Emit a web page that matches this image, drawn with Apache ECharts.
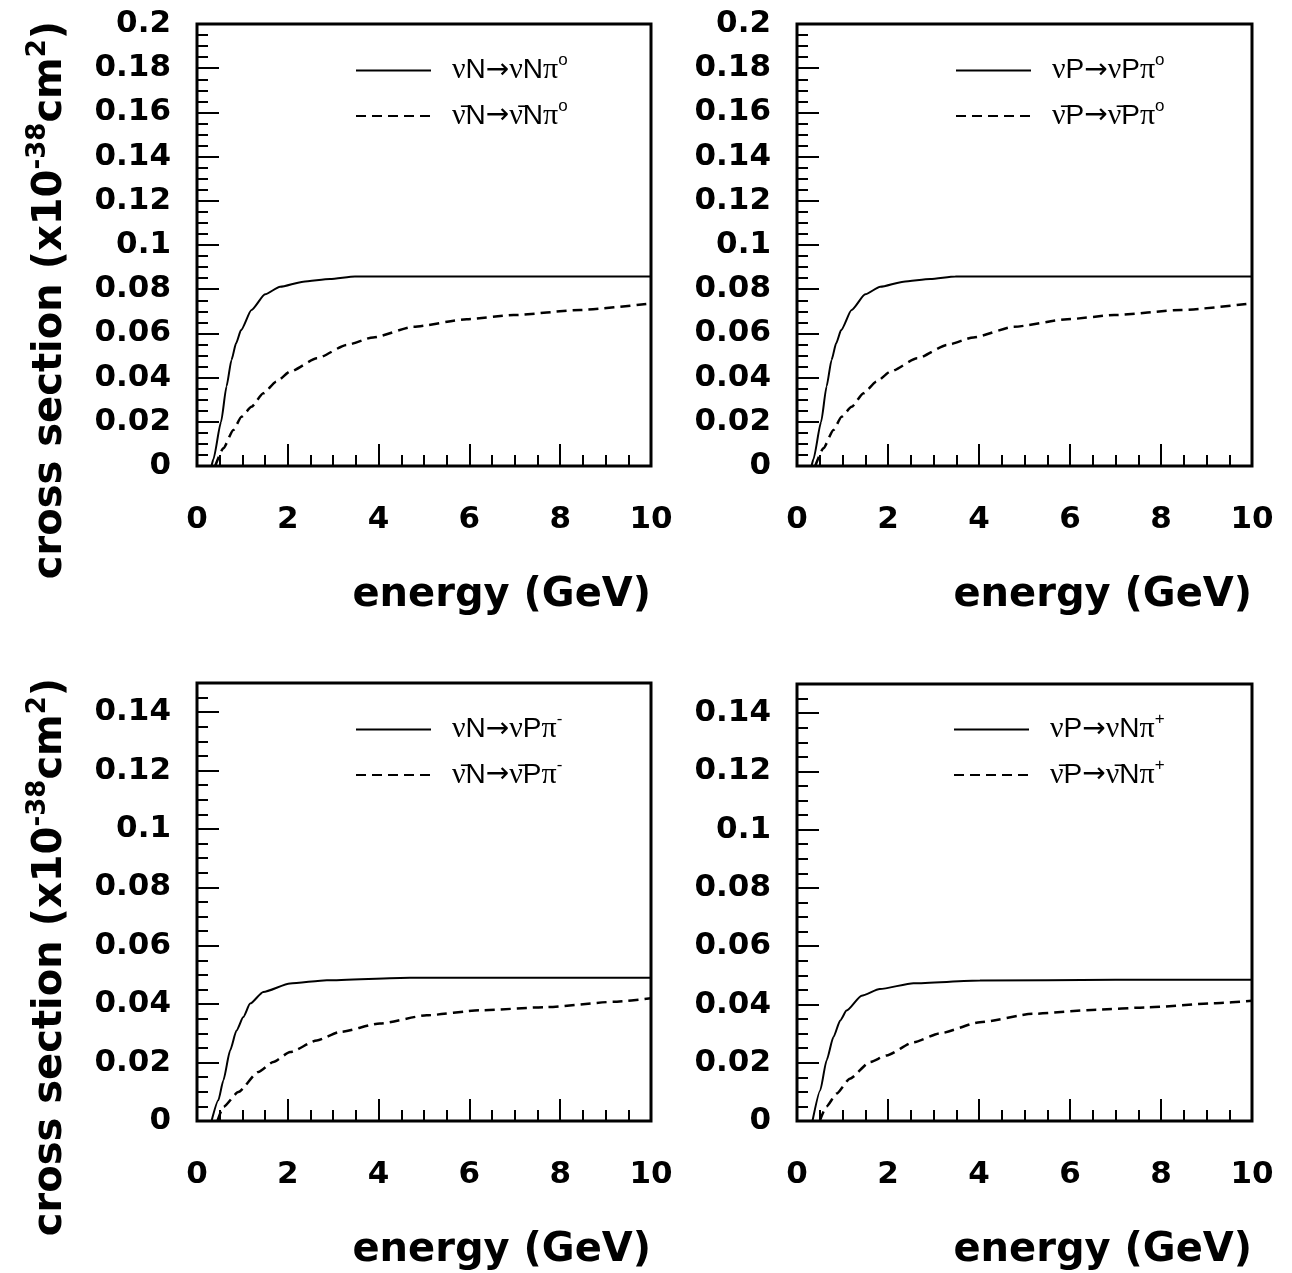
<!DOCTYPE html>
<html><head><meta charset="utf-8">
<script src="https://cdn.jsdelivr.net/npm/echarts@6/dist/echarts.min.js"></script>
<style>html,body{margin:0;padding:0;background:#fff}#c{width:1292px;height:1273px}</style>
</head><body><div id="c"></div><script>
// ---------- data ----------
const xTickLabels = ['0','2','4','6','8','10'];
const yMaxTop = 0.2, yMaxBottom = 0.15;

const namesTL = ['νN→νNπ⁰', 'ν̄N→ν̄Nπ⁰'];
const namesTR = ['νP→νPπ⁰', 'ν̄P→ν̄Pπ⁰'];
const namesBL = ['νN→νPπ⁻', 'ν̄N→ν̄Pπ⁻'];
const namesBR = ['νP→νNπ⁺', 'ν̄P→ν̄Nπ⁺'];

// top-left
const tlSolidE = [0.32,0.36,0.53,0.65,0.76,0.86,0.97,1.2,1.5,1.83,2.34,2.93,3.48,5,7,10];
const tlSolidV = [0,0.003,0.020,0.036,0.048,0.0555,0.0615,0.0706,0.0777,0.0811,0.0834,0.0846,0.0857,0.0858,0.0858,0.0858];
const tlDashE  = [0.4,0.58,0.80,0.98,1.2,1.46,1.75,2.05,2.64,3.3,3.88,4.77,5.94,6.97,8.44,10];
const tlDashV  = [0,0.008,0.0163,0.0223,0.0268,0.0329,0.0382,0.0427,0.0487,0.0548,0.0582,0.063,0.0664,0.0683,0.0706,0.0736];
// top-right
const trSolidE = [0.32,0.36,0.53,0.65,0.76,0.86,0.97,1.2,1.5,1.83,2.34,2.93,3.48,5,7,10];
const trSolidV = [0,0.003,0.020,0.036,0.048,0.0555,0.0615,0.0706,0.0777,0.0811,0.0834,0.0846,0.0857,0.0858,0.0858,0.0858];
const trDashE  = [0.4,0.58,0.80,0.98,1.2,1.46,1.75,2.05,2.64,3.3,3.88,4.77,5.94,6.97,8.44,10];
const trDashV  = [0,0.008,0.0163,0.0223,0.0268,0.0329,0.0382,0.0427,0.0487,0.0548,0.0582,0.063,0.0664,0.0683,0.0706,0.0736];
// bottom-left
const blSolidE = [0.32,0.47,0.58,0.73,0.87,1.02,1.17,1.46,2.05,2.86,4.69,7,10];
const blSolidV = [0,0.0071,0.0139,0.0242,0.031,0.0356,0.0402,0.0442,0.0471,0.0482,0.0491,0.0491,0.0491];
const blDashE  = [0.45,0.58,0.91,1.35,1.68,2.05,2.64,3.15,4.03,5.06,6.23,7.7,9.17,10];
const blDashV  = [0,0.0048,0.0099,0.0168,0.0202,0.0236,0.0276,0.0305,0.0334,0.0362,0.0379,0.039,0.0408,0.042];
// bottom-right
const brSolidE = [0.34,0.51,0.65,0.80,0.95,1.09,1.42,1.82,2.56,4.02,7,10];
const brSolidV = [0,0.0105,0.0208,0.0288,0.0345,0.0379,0.043,0.0453,0.0473,0.0482,0.0485,0.0485];
const brDashE  = [0.5,0.65,0.87,1.16,1.60,1.97,2.56,3.14,4.02,5.19,6.59,7.69,9.15,10];
const brDashV  = [0,0.005,0.0094,0.0145,0.0202,0.0225,0.027,0.0301,0.0339,0.0368,0.0382,0.039,0.0404,0.0413];

const yTitle = 'cross section (x10{sup|-38}cm{sup|2})';
const xTitle = 'energy (GeV)';

// ---------- layout ----------
const panels = [
  {left:197, top:24,  width:454, height:442, ymax:yMaxTop,    names:namesTL, s:[tlSolidE,tlSolidV], d:[tlDashE,tlDashV], ytitle:true,  lx:350, ly:47},
  {left:797, top:24,  width:455, height:442, ymax:yMaxTop,    names:namesTR, s:[trSolidE,trSolidV], d:[trDashE,trDashV], ytitle:false, lx:950, ly:47},
  {left:197, top:683, width:454, height:438, ymax:yMaxBottom, names:namesBL, s:[blSolidE,blSolidV], d:[blDashE,blDashV], ytitle:true,  lx:350, ly:706},
  {left:797, top:684, width:455, height:437, ymax:yMaxBottom, names:namesBR, s:[brSolidE,brSolidV], d:[brDashE,brDashV], ytitle:false, lx:948, ly:706}
];

const zip = (a,b) => a.map((v,i)=>[v,b[i]]);
const FONT = 'DejaVu Sans';
const tickLabel = {fontSize:31, fontWeight:'bold', fontFamily:FONT, color:'#000'};

function richName(s){
  let out='';
  for (let i=0;i<s.length;i++){
    const ch=s[i];
    if (ch==='ν'){ if (s[i+1]==='\u0304'){ out+='{g|ν\u0304}'; i++; } else out+='{g|ν}'; }
    else if (ch==='π') out+='{g|π}';
    else if (ch==='⁰') out+='{s|o}';
    else if (ch==='⁻') out+='{s|-}';
    else if (ch==='⁺') out+='{s|+}';
    else if (ch==='→') out+='{a|→}';
    else out+='{n|'+ch+'}';
  }
  return out;
}

const option = {
  animation:false,
  backgroundColor:'#fff',
  grid:[], xAxis:[], yAxis:[], series:[], legend:[]
};

panels.forEach((p,i)=>{
  option.grid.push({left:p.left, top:p.top, width:p.width, height:p.height, show:true,
    borderColor:'#000', borderWidth:3, backgroundColor:'transparent', containLabel:false, outerBoundsMode:'none'});
  option.xAxis.push({type:'value', gridIndex:i, min:0, max:10, interval:2,
    axisLine:{show:false}, splitLine:{show:false},
    axisTick:{inside:true, length:22, lineStyle:{color:'#000', width:2}},
    axisLabel:Object.assign({margin:38, formatter:(v)=>xTickLabels[Math.round(v/2)] ?? ''}, tickLabel),
    name:xTitle, nameLocation:'end', nameGap:0, nameMoveOverlap:false,
    nameTextStyle:{align:'right', verticalAlign:'top', padding:[110,0,0,0], fontSize:40, fontFamily:FONT, fontWeight:'bold', color:'#000'}
  });
  option.xAxis.push({type:'value', gridIndex:i, min:0, max:10, interval:0.5, position:'bottom',
    axisLine:{show:false}, splitLine:{show:false}, axisLabel:{show:false},
    axisTick:{inside:true, length:11, lineStyle:{color:'#000', width:2}}});
  const ya = {type:'value', gridIndex:i, min:0, max:p.ymax, interval:0.02, position:'left',
    axisLine:{show:false}, splitLine:{show:false},
    axisTick:{inside:true, length:22, lineStyle:{color:'#000', width:2}},
    axisLabel:Object.assign({margin:26, padding:[8,0,0,0], showMaxLabel: p.ymax===yMaxTop}, tickLabel)};
  if (p.ytitle){
    Object.assign(ya, {name:yTitle, nameLocation:'middle', nameGap:120, nameRotate:90, nameMoveOverlap:false,
      nameTextStyle:{fontSize:40, fontFamily:FONT, fontWeight:'bold', color:'#000', padding:[0,110,0,0],
        rich:{sup:{fontSize:26, fontFamily:FONT, fontWeight:'bold', color:'#000', padding:[0,0,26,0]}}}});
  }
  option.yAxis.push(ya);
  option.yAxis.push({type:'value', gridIndex:i, min:0, max:p.ymax, interval:0.005, position:'left',
    axisLine:{show:false}, splitLine:{show:false}, axisLabel:{show:false},
    axisTick:{inside:true, length:11, lineStyle:{color:'#000', width:2}}});

  option.series.push({name:p.names[0], type:'line', xAxisIndex:2*i, yAxisIndex:2*i, data:zip(p.s[0],p.s[1]),
    symbol:'none', smooth:0.2, smoothMonotone:'x', lineStyle:{color:'#000', width:2, type:'solid'}, itemStyle:{color:'#000'}});
  option.series.push({name:p.names[1], type:'line', xAxisIndex:2*i, yAxisIndex:2*i, data:zip(p.d[0],p.d[1]),
    symbol:'none', smooth:0.2, smoothMonotone:'x', lineStyle:{color:'#000', width:2.5, type:[10,6]}, itemStyle:{color:'#000'}});

  option.legend.push({orient:'vertical', left:p.lx, top:p.ly, itemWidth:75, itemHeight:20, itemGap:12,
    selectedMode:false, data:p.names, formatter:richName,
    itemStyle:{color:'transparent', borderColor:'transparent', borderWidth:0, opacity:0},
    lineStyle:{color:'#000', opacity:1},
    textStyle:{padding:[0,0,0,16], color:'#000',
      rich:{
        n:{fontFamily:'Liberation Sans', fontSize:28, color:'#000'},
        g:{fontFamily:'Liberation Serif', fontSize:30, color:'#000'},
        a:{fontFamily:'DejaVu Sans', fontSize:28, color:'#000'},
        s:{fontFamily:'Liberation Sans', fontSize:17, color:'#000', padding:[0,0,20,0]}
      }}
  });
});

const chart = echarts.init(document.getElementById('c'), null, {renderer:'canvas'});
chart.setOption(option);
</script></body></html>
